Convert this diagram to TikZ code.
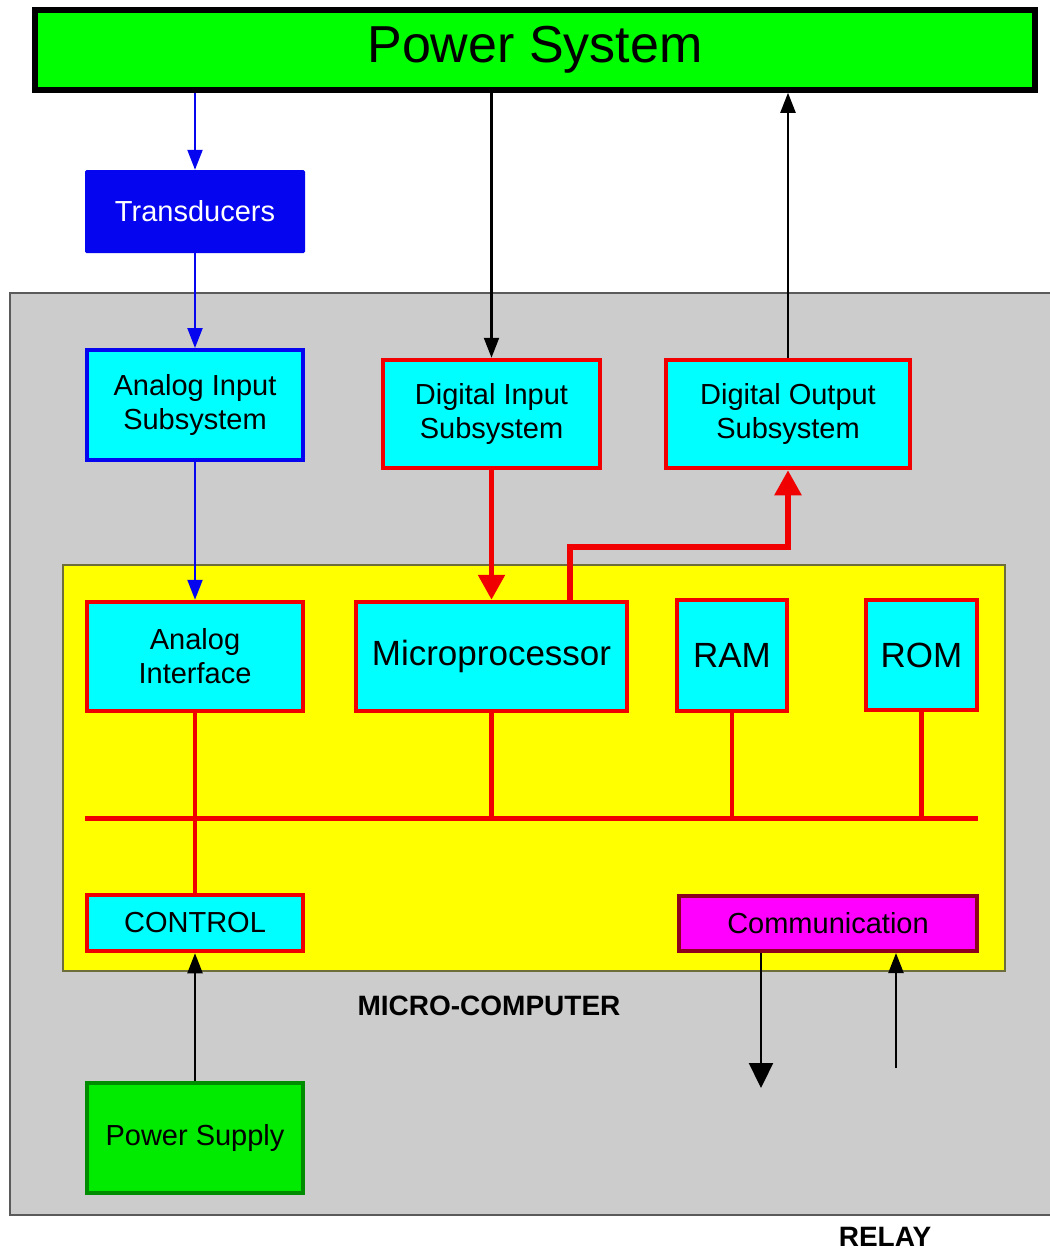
\documentclass[tikz,border=0pt]{standalone}
\usepackage{fontspec}
\setmainfont{Liberation Sans}
\usetikzlibrary{arrows.meta}
\definecolor{psgreen}{RGB}{0,255,0}
\definecolor{supgreen}{RGB}{0,235,0}
\definecolor{supborder}{RGB}{0,140,0}
\definecolor{tblue}{RGB}{5,5,240}
\definecolor{cyanf}{RGB}{0,255,255}
\definecolor{redb}{RGB}{240,0,0}
\definecolor{grayf}{RGB}{204,204,204}
\definecolor{grayb}{RGB}{90,90,90}
\definecolor{yellowf}{RGB}{255,255,0}
\definecolor{yellowb}{RGB}{110,110,60}
\definecolor{magf}{RGB}{255,0,255}
\definecolor{magb}{RGB}{140,0,30}
\tikzset{
  boxbase/.style={inner sep=0pt, align=center, font=\fontsize{29}{34}\selectfont},
  redbox/.style={boxbase, draw=redb, line width=4.5pt, fill=cyanf},
  bigtxt/.style={font=\fontsize{35}{40}\selectfont},
  blackarrow/.style={draw=black, line width=2.2pt, -{Triangle[length=20pt,width=15pt]}},
  bigblackarrow/.style={draw=black, line width=2.2pt, -{Triangle[length=25pt,width=24pt]}},
  bluearrow/.style={draw=tblue, line width=2.2pt, -{Triangle[length=20pt,width=15pt]}},
  redarrow/.style={draw=redb, line width=5.5pt, -{Triangle[length=25pt,width=26pt]}},
  redline/.style={draw=redb, line width=4.5pt},
  labeltxt/.style={font=\bfseries\fontsize{28}{32}\selectfont}
}
\begin{document}
\begin{tikzpicture}[x=1pt,y=-1pt]
\useasboundingbox (0,0) rectangle (1050,1251);
% relay region
\node[draw=grayb, line width=2pt, fill=grayf, minimum width=1060pt, minimum height=922pt, inner sep=0pt] (relay) at (540,754) {};
% micro-computer region
\node[draw=yellowb, line width=1.5pt, fill=yellowf, minimum width=942pt, minimum height=406pt, inner sep=0pt] (micro) at (534,768) {};
% power system
\node[boxbase, draw=black, line width=5.5pt, fill=psgreen, minimum width=1000pt, minimum height=80pt, font=\fontsize{52}{56}\selectfont] (ps) at (535,50) {Power System};
\node[boxbase, fill=tblue, text=white, minimum width=220pt, minimum height=83pt, rounded corners=1.5pt] (trans) at (195,211.5) {Transducers};
\node[boxbase, draw=tblue, line width=4pt, fill=cyanf, minimum width=216pt, minimum height=110pt] (ais) at (195,405) {Analog Input\\Subsystem};
\node[redbox, minimum width=217pt, minimum height=108pt] (dis) at (491.5,414) {Digital Input\\Subsystem};
\node[redbox, minimum width=244pt, minimum height=108pt] (dos) at (788,414) {Digital Output\\Subsystem};
\node[redbox, minimum width=216pt, minimum height=109pt] (ai) at (195,656.5) {Analog\\Interface};
\node[redbox, bigtxt, minimum width=271pt, minimum height=109pt] (mp) at (491.5,656.5) {Microprocessor};
\node[redbox, bigtxt, minimum width=110pt, minimum height=111pt] (ram) at (732,655.5) {RAM};
\node[redbox, bigtxt, minimum width=111pt, minimum height=110pt] (rom) at (921.5,655) {ROM};
\node[redbox, minimum width=216pt, minimum height=56pt] (ctrl) at (195,923) {CONTROL};
\node[boxbase, draw=magb, line width=4pt, fill=magf, minimum width=298pt, minimum height=55pt] (comm) at (828,923.5) {Communication};
\node[boxbase, draw=supborder, line width=4pt, fill=supgreen, minimum width=216pt, minimum height=110pt] (psu) at (195,1138) {Power Supply};
\node[labeltxt] (mclabel) at (489,1006) {MICRO-COMPUTER};
\node[labeltxt] (relaylabel) at (885,1237) {RELAY};
% bus
\coordinate (busL) at (85,818);
\coordinate (busR) at (978,818);
\draw[draw=redb, line width=5pt] (busL) -- (busR);
\draw[redline] (ai.south) -- (ctrl.north);
\draw[redline] (mp.south) -- (mp.south |- busL);
\draw[redline] (ram.south) -- (ram.south |- busL);
\draw[redline] (rom.south) -- (rom.south |- busL);
% arrows
\draw[bluearrow] (trans.north |- ps.south) -- (trans.north);
\draw[bluearrow] (trans.south) -- (ais.north);
\draw[bluearrow] (ais.south) -- (ai.north);
\draw[blackarrow] (dis.north |- ps.south) -- (dis.north);
\draw[blackarrow] (dos.north) -- (dos.north |- ps.south);
\draw[redarrow] (dis.south) -- (mp.north);
\coordinate (mpout) at (570,602);
\draw[redarrow] (mpout) -- (570,547) -| (dos.south);
\draw[blackarrow] (psu.north) -- (ctrl.south);
\coordinate (commOut) at (761,1088);
\coordinate (commIn) at (896,1068);
\draw[bigblackarrow] (comm.south -| commOut) -- (commOut);
\draw[blackarrow] (commIn) -- (comm.south -| commIn);
\end{tikzpicture}
\end{document}
